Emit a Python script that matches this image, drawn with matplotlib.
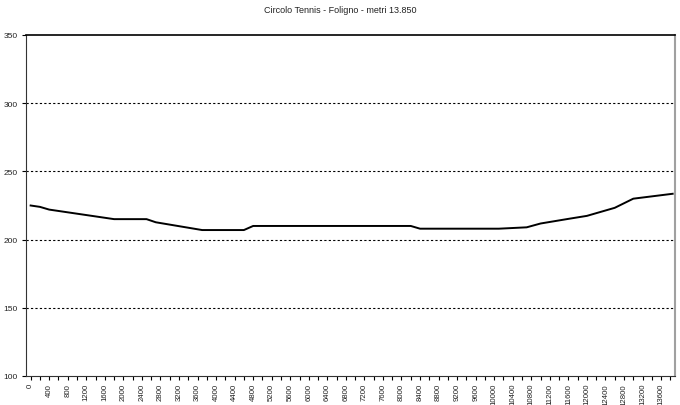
import matplotlib.pyplot as plt

# profilo altimetrico: distanza (m) / quota (m)
distanza = [0, 200, 400, 1800, 2500, 2700, 3700, 4600, 4800, 8200, 8400,
            10100, 10700, 11000, 11600, 12000, 12600, 13000, 13850]
quota = [225, 224, 222, 215, 215, 212.7, 207, 207, 210, 210, 208,
         208, 209, 211.8, 215.2, 217.4, 223.3, 230, 233.6]

tick_labels = list(range(0, 13601, 400))

fig = plt.figure(figsize=(6.8, 4.06), dpi=100)
ax = fig.add_axes([26 / 680, 29 / 406, 649 / 680, 341 / 406])

ax.plot(distanza, quota, color='black', lw=1.4)

ax.set_xlim(-100, 13900)
ax.set_ylim(100, 350)
ax.set_yticks([100, 150, 200, 250, 300, 350])
for y in [150, 200, 250, 300]:
    ax.axhline(y, color='black', lw=0.8, ls=(0, (2, 2)))

ax.set_xticks(tick_labels)
ax.set_xticklabels([str(t) for t in tick_labels], rotation=90, fontsize=5.6,
                   family='Liberation Sans', color='#222222')
ax.set_xticks(range(200, 13801, 400), minor=True)
ax.tick_params(axis='x', which='both', direction='out', length=3, width=0.8, pad=2)
ax.tick_params(axis='y', direction='out', length=3, width=0.8, labelsize=6, pad=3)
for lab in ax.get_yticklabels():
    lab.set_family('Liberation Sans')
    lab.set_color('#222222')

ax.spines['left'].set_color('#333333')
ax.spines['bottom'].set_color('#333333')
ax.spines['top'].set_color('black')
ax.spines['top'].set_linewidth(1.2)
ax.spines['right'].set_color('#a0a0a0')
ax.spines['right'].set_linewidth(1.5)

fig.text(0.5, 0.985, 'Circolo Tennis - Foligno - metri 13.850', ha='center', va='top',
         fontsize=6.5, family='Liberation Sans', color='#222222')

fig.savefig('out.png', dpi=100)
